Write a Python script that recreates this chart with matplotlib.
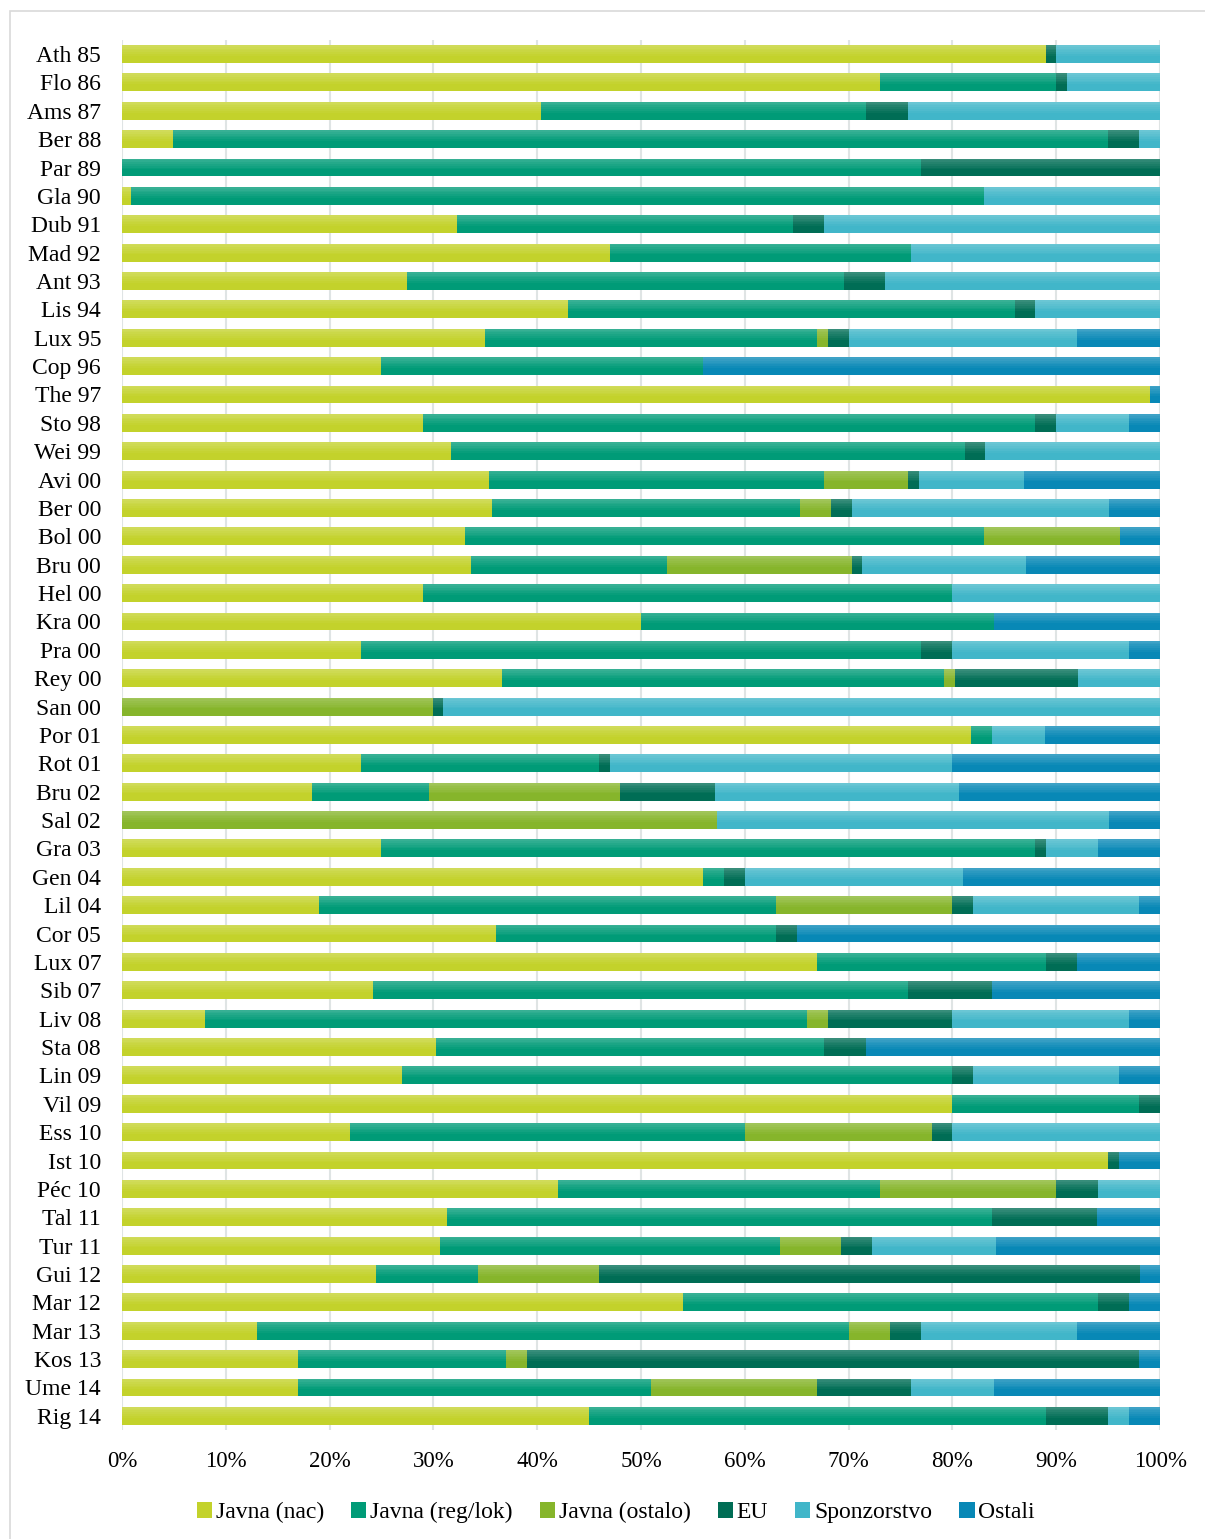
import numpy as np
import matplotlib
matplotlib.use('Agg')
import matplotlib.pyplot as plt
from matplotlib.patches import Rectangle

plt.rcParams['font.family'] = ['Liberation Serif', 'DejaVu Serif']

cities = ['Ath 85', 'Flo 86', 'Ams 87', 'Ber 88', 'Par 89', 'Gla 90', 'Dub 91', 'Mad 92',
          'Ant 93', 'Lis 94', 'Lux 95', 'Cop 96', 'The 97', 'Sto 98', 'Wei 99', 'Avi 00',
          'Ber 00', 'Bol 00', 'Bru 00', 'Hel 00', 'Kra 00', 'Pra 00', 'Rey 00', 'San 00',
          'Por 01', 'Rot 01', 'Bru 02', 'Sal 02', 'Gra 03', 'Gen 04', 'Lil 04', 'Cor 05',
          'Lux 07', 'Sib 07', 'Liv 08', 'Sta 08', 'Lin 09', 'Vil 09', 'Ess 10', 'Ist 10',
          'Péc 10', 'Tal 11', 'Tur 11', 'Gui 12', 'Mar 12', 'Mar 13', 'Kos 13', 'Ume 14',
          'Rig 14']

javna_nac = [89, 73, 40.4, 4.9, 0, 0.9, 32.3, 47, 27.5, 43, 35, 25, 99, 29, 31.7, 35.4,
             35.6, 33, 33.6, 29, 50, 23, 36.6, 0, 81.8, 23, 18.3, 0, 25, 56, 19, 36,
             67, 24.2, 8, 30.3, 27, 80, 22, 95, 42, 31.3, 30.6, 24.5, 54, 13, 17, 17, 45]
javna_reg = [0, 17, 31.3, 90.1, 77, 82.1, 32.3, 29, 42.1, 43, 32, 31, 0, 59, 49.5, 32.2,
             29.7, 50, 18.9, 51, 34, 54, 42.6, 0, 2, 23, 11.3, 0, 63, 2, 44, 27,
             22, 51.5, 58, 37.3, 53, 18, 38, 0, 31, 52.5, 32.8, 9.8, 40, 57, 20, 34, 44]
javna_ost = [0, 0, 0, 0, 0, 0, 0, 0, 0, 0, 1, 0, 0, 0, 0, 8.1,
             3, 13.1, 17.8, 0, 0, 0, 1, 30, 0, 0, 18.4, 57.3, 0, 0, 17, 0,
             0, 0, 2, 0, 0, 0, 18, 0, 17, 0, 5.9, 11.7, 0, 4, 2, 16, 0]
eu = [1, 1, 4, 3, 23, 0, 3, 0, 3.9, 2, 2, 0, 0, 2, 1.9, 1.1,
      2, 0, 1, 0, 0, 3, 11.9, 0.9, 0, 1, 9.1, 0, 1, 2, 2, 2,
      3, 8.1, 12, 4.1, 2, 2, 2, 1, 4, 10.1, 3, 52.1, 3, 3, 59, 9, 6]
sponzorstvo = [10, 9, 24.3, 2, 0, 17, 32.4, 24, 26.5, 12, 22, 0, 0, 7, 16.9, 10.1,
               24.8, 0, 15.8, 20, 0, 17, 7.9, 69.1, 5.1, 33, 23.5, 37.8, 5, 21, 16, 0,
               0, 0, 17, 0, 14, 0, 20, 0, 6, 0, 11.9, 0, 0, 15, 0, 8, 2]
ostali = [0, 0, 0, 0, 0, 0, 0, 0, 0, 0, 8, 44, 1, 3, 0, 13.1,
          4.9, 3.9, 12.9, 0, 16, 3, 0, 0, 11.1, 20, 19.4, 4.9, 6, 19, 2, 35,
          8, 16.2, 3, 28.3, 4, 0, 0, 4, 0, 6.1, 15.8, 1.9, 3, 8, 2, 16, 3]

series = [('Javna (nac)', javna_nac), ('Javna (reg/lok)', javna_reg),
          ('Javna (ostalo)', javna_ost), ('EU', eu),
          ('Sponzorstvo', sponzorstvo), ('Ostali', ostali)]
colors = ['#c3d22b', '#009b77', '#86b52b', '#006d55', '#41b6c9', '#0888b6']

fig = plt.figure(figsize=(12.05, 15.39), dpi=100)
ax = fig.add_axes([0.1012, 0.0708, 0.8615, 0.9033])

y = np.arange(len(cities))
h = 0.63
left = np.zeros(len(cities))
handles = []
for (name, vals), col in zip(series, colors):
    vals = np.array(vals, dtype=float)
    b = ax.barh(y, vals, left=left, height=h, color=col, edgecolor='none', label=name, zorder=2)
    handles.append(b)
    # light sheen on the upper part of each segment
    nstrip = 6
    for k in range(nstrip):
        a = 0.22 * (1 - k / nstrip)
        yy = y - h / 2 + (k + 0.5) * (h * 0.6 / nstrip)
        ax.barh(yy, vals, left=left, height=h * 0.6 / nstrip, color='white',
                alpha=a, edgecolor='none', zorder=3)
    left += vals

ax.set_xlim(0, 100)
ax.set_ylim(len(cities) - 0.5, -0.5)
ax.set_xticks(np.arange(0, 101, 10))
ax.set_xticklabels([f'{v}%' for v in range(0, 101, 10)], fontsize=16.5)
ax.set_yticks(y)
ax.set_yticklabels(cities, fontsize=17)
ax.tick_params(length=0)
ax.tick_params(axis='y', pad=15)
ax.tick_params(axis='x', pad=15)
ax.grid(axis='x', color='#dfe4e4', lw=1.5, zorder=0)
for s in ax.spines.values():
    s.set_visible(False)

leg = fig.legend(handles=handles, loc='center', bbox_to_anchor=(0.511, 0.017), ncol=6,
                 frameon=False, fontsize=17, handlelength=0.65, handleheight=0.65,
                 handletextpad=0.15, columnspacing=1.15)

fig.patches.append(Rectangle((0.008, -0.01), 1.1, 1.003, transform=fig.transFigure,
                             fill=False, edgecolor='#d9d9d9', lw=1.2))

fig.savefig('out.png', dpi=100)
